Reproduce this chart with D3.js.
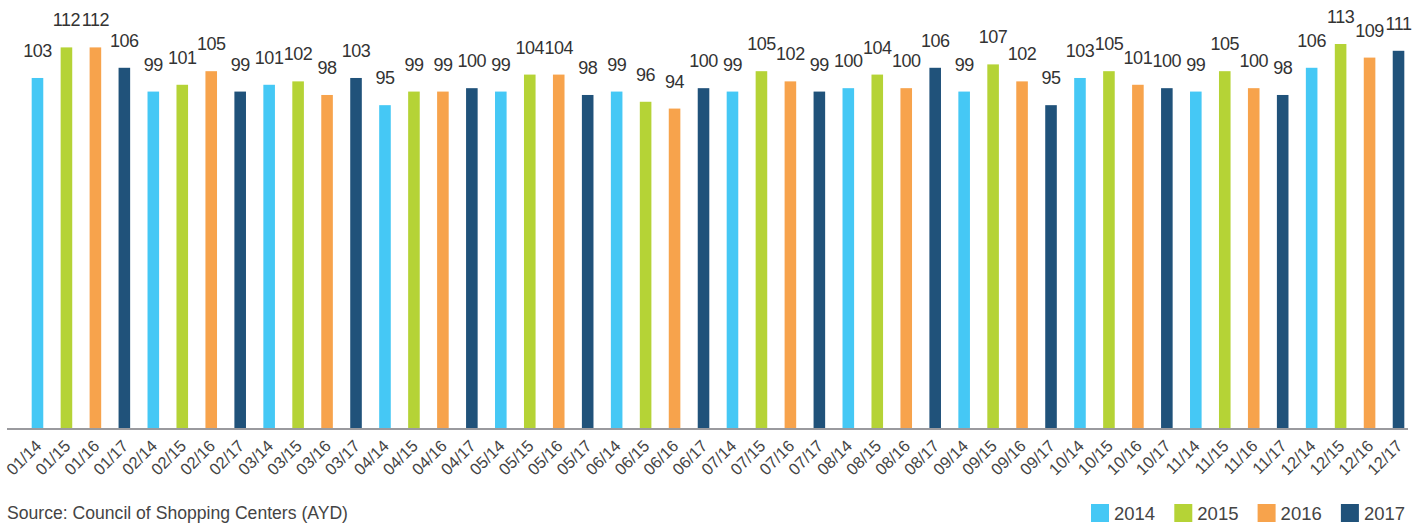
<!DOCTYPE html>
<html>
<head>
<meta charset="utf-8">
<script src="https://cdn.jsdelivr.net/npm/d3@7"></script>
<style>
  html, body { margin: 0; padding: 0; background: #fff; }
  svg { display: block; font-family: "Liberation Sans", Arial, Helvetica, sans-serif; }
</style>
</head>
<body>
<svg id="chart" width="1422" height="525"></svg>
<script>
// Monthly index values, one bar per month/year pair
const months = ["01","02","03","04","05","06","07","08","09","10","11","12"];
const years = ["2014","2015","2016","2017"];
const values2014 = [103, 99, 101, 95, 99, 99, 99, 100, 99, 103, 99, 106];
const values2015 = [112, 101, 102, 99, 104, 96, 105, 104, 107, 105, 105, 113];
const values2016 = [112, 105, 98, 99, 104, 94, 102, 100, 102, 101, 100, 109];
const values2017 = [106, 99, 103, 100, 98, 100, 99, 106, 95, 100, 98, 111];
const yearColors = ["#45C8F5", "#B5D336", "#F7A34C", "#20527A"];
const sourceText = "Source: Council of Shopping Centers (AYD)";

const seriesValues = [values2014, values2015, values2016, values2017];

// Flatten into month-major order: 01/14, 01/15, 01/16, 01/17, 02/14 ...
const rows = [];
months.forEach((m, mi) => {
  years.forEach((y, yi) => {
    rows.push({
      label: m + "/" + y.slice(2),
      year: y,
      yi: yi,
      value: seriesValues[yi][mi]
    });
  });
});

const svg = d3.select("#chart");
const baseY = 428;

const x = d3.scaleBand()
  .domain(rows.map(d => d.label))
  .range([23, 1413])
  .paddingInner(0.6)
  .paddingOuter(0.3);

const y = d3.scaleLinear()
  .domain([0, 113])
  .range([baseY, 44]);

const color = d3.scaleOrdinal().domain(years).range(yearColors);

// Bars
svg.append("g")
  .selectAll("rect")
  .data(rows)
  .join("rect")
  .attr("x", d => x(d.label))
  .attr("y", d => y(d.value))
  .attr("width", x.bandwidth())
  .attr("height", d => y(0) - y(d.value))
  .attr("fill", d => color(d.year));

// Value labels above each bar
svg.append("g")
  .selectAll("text")
  .data(rows)
  .join("text")
  .attr("x", d => x(d.label) + x.bandwidth() / 2)
  .attr("y", d => y(d.value) - 21)
  .attr("text-anchor", "middle")
  .attr("font-size", 18)
  .attr("letter-spacing", "-0.5px")
  .attr("fill", "#333")
  .text(d => d.value);

// Baseline
svg.append("line")
  .attr("x1", 7).attr("x2", 1408)
  .attr("y1", baseY + 1).attr("y2", baseY + 1)
  .attr("stroke", "#9a9a9e")
  .attr("stroke-width", 2);

// Rotated category labels
const axis = d3.axisBottom(x).tickSize(0).tickPadding(0);
const gx = svg.append("g")
  .attr("transform", `translate(0,${baseY})`)
  .call(axis);
gx.select(".domain").remove();
gx.selectAll(".tick text")
  .attr("font-size", 16.5)
  .attr("font-family", "Liberation Sans, Arial, sans-serif")
  .attr("fill", "#444")
  .attr("text-anchor", "end")
  .attr("dy", 0)
  .attr("transform", "translate(5,19) rotate(-45)");

// Source note
svg.append("text")
  .attr("x", 7).attr("y", 519)
  .attr("font-size", 17.6)
  .attr("fill", "#444")
  .text(sourceText);

// Legend
const legend = svg.append("g")
  .selectAll("g")
  .data(years)
  .join("g")
  .attr("transform", (d, i) => `translate(${1091 + i * 83.3},504)`);
legend.append("rect")
  .attr("width", 18).attr("height", 18)
  .attr("fill", d => color(d));
legend.append("text")
  .attr("x", 23).attr("y", 16)
  .attr("font-size", 18.5)
  .attr("fill", "#444")
  .text(d => d);
</script>
</body>
</html>
